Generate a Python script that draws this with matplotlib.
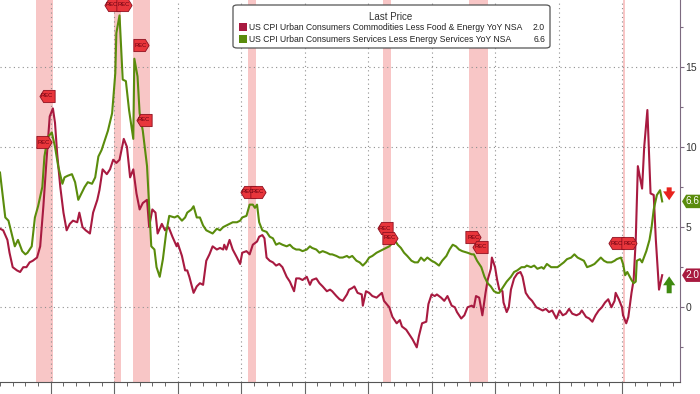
import matplotlib
matplotlib.use('Agg')
import matplotlib.pyplot as plt
from matplotlib.patches import Polygon, FancyBboxPatch, FancyArrowPatch
from matplotlib import transforms

# -----------------------------------------------------------------------------
# data: months since Jan 1971 and YoY change (%)
gds_name = 'US CPI Urban Consumers Commodities Less Food & Energy YoY NSA'
gds_mon = [
    0, 3, 7, 9, 12, 16, 19, 22, 25, 28, 31, 35, 38, 41, 44, 47, 50, 52, 54, 57,
    60, 63, 66, 69, 73, 75, 78, 81, 85, 88, 92, 94, 97, 101, 104, 107, 110, 113, 117, 120,
    123, 126, 129, 132, 135, 139, 141, 144, 147, 149, 153, 156, 159, 160, 163, 167, 168, 172, 175, 177,
    179, 183, 186, 189, 192, 195, 198, 201, 205, 208, 211, 212, 214, 217, 220, 224, 227, 229, 233, 236,
    239, 243, 245, 248, 250, 252, 255, 258, 261, 264, 267, 271, 274, 278, 280, 283, 286, 290, 293, 295,
    299, 302, 305, 309, 312, 314, 318, 321, 324, 328, 330, 333, 335, 338, 342, 343, 346, 349, 352, 356,
    361, 363, 368, 371, 375, 378, 380, 384, 387, 390, 394, 396, 399, 403, 405, 408, 411, 413, 417, 420,
    423, 427, 430, 432, 436, 439, 442, 446, 448, 450, 453, 456, 459, 461, 464, 465, 468, 470, 472, 475,
    476, 479, 481, 483, 486, 489, 492, 494, 497, 500, 503, 507, 510, 513, 516, 519, 522, 526, 529, 532,
    535, 538, 541, 545, 548, 550, 554, 557, 560, 563, 566, 569, 572, 575, 578, 581, 582, 585, 588, 589,
    592, 594, 597, 599, 601, 603, 607, 609, 612, 615, 618, 620, 623, 626]
gds_val = [
    4.9, 4.8, 4.2, 3.4, 2.5, 2.3, 2.2, 2.5, 2.5, 2.8, 2.9, 3.1, 3.8, 6.3, 9.2, 11.9, 12.4, 11.5, 9.6, 7.5,
    5.9, 4.8, 5.2, 5.4, 5.3, 5.9, 5.0, 4.8, 4.6, 5.9, 6.7, 7.3, 8.6, 8.3, 8.6, 9.2, 9.0, 9.2, 10.5, 10.0,
    8.1, 8.6, 7.1, 6.1, 6.5, 6.7, 5.0, 6.1, 5.9, 4.6, 5.2, 4.8, 5.0, 4.9, 4.4, 3.8, 4.0, 3.2, 2.3, 2.3,
    1.9, 0.9, 1.3, 1.5, 1.4, 2.9, 3.3, 3.8, 3.6, 3.7, 3.6, 3.9, 3.6, 4.2, 3.6, 3.1, 2.7, 3.4, 3.5, 3.3,
    3.9, 4.1, 4.4, 4.5, 4.3, 3.1, 2.9, 2.8, 2.6, 2.7, 2.5, 1.9, 1.6, 1.0, 1.8, 1.8, 1.7, 1.9, 1.4, 1.7,
    1.8, 1.5, 1.3, 1.0, 1.1, 1.0, 0.7, 0.5, 0.4, 0.8, 1.1, 1.2, 1.3, 0.9, 0.8, 0.1, 1.0, 0.9, 0.7, 0.6,
    0.9, 0.4, 0.0, -0.6, -1.0, -0.8, -1.2, -1.4, -1.7, -2.0, -2.5, -1.8, -1.0, -0.9, 0.2, 0.8, 0.7, 0.8, 0.6, 0.4,
    0.7, 0.1, 0.0, -0.3, -0.7, -0.5, 0.0, 0.1, 0.0, 0.7, 0.6, -0.5, 0.9, 1.7, 2.4, 3.1, 2.5, 1.7, 1.1, 1.0,
    0.3, -0.3, 0.0, 1.1, 1.8, 2.1, 2.2, 1.9, 0.9, 0.6, 0.4, 0.0, -0.1, -0.2, -0.1, -0.3, -0.2, -0.7, -0.2, -0.5,
    -0.4, -0.1, -0.4, -0.5, -0.4, -0.2, -0.6, -0.7, -0.9, -0.5, -0.2, 0.0, 0.3, 0.5, 0.0, 0.4, 0.9, 0.5, 0.0, -0.5,
    -1.0, -0.6, 0.9, 1.7, 4.2, 8.8, 7.4, 10.0, 12.3, 7.1, 7.0, 4.2, 1.1, 2.0]

svc_name = 'US CPI Urban Consumers Services Less Energy Services YoY NSA'
svc_mon = [
    0, 5, 8, 11, 14, 17, 21, 24, 26, 30, 33, 36, 40, 42, 45, 49, 52, 55, 59, 61,
    64, 68, 71, 74, 77, 80, 83, 87, 90, 93, 96, 99, 102, 106, 109, 110, 113, 116, 119, 122,
    126, 127, 130, 132, 135, 139, 141, 143, 146, 148, 151, 154, 157, 160, 165, 168, 172, 175, 177, 181,
    183, 186, 189, 192, 195, 198, 201, 205, 208, 211, 214, 217, 220, 224, 227, 229, 233, 236, 239, 241,
    243, 245, 248, 252, 255, 258, 261, 264, 267, 271, 274, 277, 280, 283, 286, 290, 293, 295, 299, 302,
    305, 309, 312, 314, 318, 321, 324, 328, 330, 333, 337, 340, 343, 346, 349, 352, 356, 359, 362, 365,
    368, 371, 374, 376, 379, 382, 385, 389, 392, 395, 398, 401, 404, 408, 411, 415, 418, 422, 425, 428,
    431, 434, 437, 442, 446, 448, 451, 455, 458, 461, 464, 467, 470, 472, 475, 479, 483, 486, 489, 493,
    496, 498, 502, 505, 508, 512, 514, 517, 521, 524, 527, 531, 533, 536, 540, 543, 546, 549, 552, 555,
    559, 562, 565, 568, 571, 574, 578, 581, 583, 587, 589, 591, 593, 597, 599, 601, 602, 605, 607, 611,
    614, 616, 618, 621, 624, 626]
svc_val = [
    8.4, 5.6, 5.4, 4.6, 3.8, 4.2, 3.5, 3.3, 3.4, 3.8, 5.6, 6.3, 7.5, 9.4, 10.6, 10.9, 10.0, 8.8, 7.7, 8.1,
    8.2, 8.3, 7.8, 6.7, 7.1, 7.5, 7.8, 7.7, 8.1, 9.4, 9.8, 10.4, 11.0, 12.1, 14.6, 17.1, 18.2, 14.2, 14.1, 12.3,
    10.5, 15.5, 14.4, 12.1, 11.0, 8.8, 6.3, 3.8, 3.6, 2.5, 1.9, 3.0, 4.6, 5.7, 5.6, 5.7, 5.4, 5.6, 5.9, 6.1,
    6.3, 5.6, 5.6, 5.1, 4.8, 4.7, 4.6, 4.9, 4.8, 5.0, 5.1, 5.2, 5.3, 5.3, 5.4, 5.6, 5.7, 6.4, 6.4, 6.2,
    6.4, 5.3, 4.8, 4.7, 4.4, 4.3, 3.9, 4.0, 3.9, 3.8, 3.9, 3.7, 3.6, 3.6, 3.5, 3.6, 3.8, 3.7, 3.6, 3.4,
    3.5, 3.4, 3.3, 3.3, 3.2, 3.1, 3.1, 3.2, 3.1, 3.2, 2.9, 2.8, 2.6, 2.8, 3.1, 3.2, 3.4, 3.5, 3.6, 3.7,
    3.8, 4.0, 4.1, 3.9, 3.7, 3.4, 3.2, 2.9, 2.8, 2.8, 3.1, 2.9, 3.1, 2.9, 2.8, 2.6, 2.9, 3.2, 3.6, 3.9,
    3.8, 3.6, 3.5, 3.4, 3.3, 3.3, 2.9, 2.5, 1.9, 1.5, 1.3, 1.0, 0.9, 0.9, 1.2, 1.6, 1.9, 2.2, 2.3, 2.5,
    2.5, 2.6, 2.5, 2.6, 2.4, 2.5, 2.4, 2.7, 2.5, 2.5, 2.5, 2.7, 2.8, 3.0, 3.1, 3.3, 3.1, 3.0, 2.9, 2.5,
    2.6, 2.7, 2.9, 3.1, 2.9, 2.8, 2.8, 2.9, 3.0, 3.1, 2.7, 2.0, 2.2, 1.7, 1.5, 1.6, 2.9, 3.0, 2.8, 3.5,
    4.2, 5.0, 6.1, 7.0, 7.3, 6.6]

rec_span = [('1973-11', '1975-03'), ('1980-01', '1980-07'), ('1981-07', '1982-11'),
            ('1990-07', '1991-03'), ('2001-03', '2001-11'), ('2007-12', '2009-06'),
            ('2020-02', '2020-04')]
# "REC" tags: year, value, pointing side
rec_tag = [(1974.46, 10.3, 'r'), (1974.70, 13.2, 'l'), (1979.82, 18.85, 'l'), (1980.74, 18.85, 'r'),
           (1982.10, 16.35, 'r'), (1982.33, 11.68, 'l'), (1990.52, 7.19, 'l'), (1991.30, 7.19, 'r'),
           (2001.30, 4.93, 'l'), (2001.69, 4.32, 'r'), (2008.30, 4.38, 'r'), (2008.85, 3.76, 'l'),
           (2019.55, 4.0, 'l'), (2020.58, 4.0, 'r')]

# -----------------------------------------------------------------------------
c_gds, c_svc = '#a81a40', '#5a8c0c'
c_rec, c_tag = '#f8c6c6', '#e8353b'

def yr(s):
    return int(s[:4]) + (int(s[5:]) - 1) / 12.

gds_yr = [1971. + m / 12. for m in gds_mon]
svc_yr = [1971. + m / 12. for m in svc_mon]

plt.rcParams['font.family'] = ['Liberation Sans', 'DejaVu Sans']
fig = plt.figure(figsize=(7., 3.94), dpi=100)
ax = fig.add_axes([0., 1. - 382. / 394., 680. / 700., 382. / 394.])
ax.set_xlim(1971.0, 2024.57)
ax.set_ylim(-4.66, 19.16)

## recession bands
for st, en in rec_span:
    ax.axvspan(yr(st), yr(en), color=c_rec, lw=0, zorder=0)

## grid and axes
ax.set_xticks(range(1975, 2021, 5))
ax.set_xticks(range(1971, 2025), minor=True)
ax.set_yticks([0, 5, 10, 15])
ax.set_yticks([-2.5, 2.5, 7.5, 12.5, 17.5], minor=True)
ax.grid(which='major', linestyle=(0, (1, 3)), color='#8f8f8f', lw=0.8, zorder=1)
ax.tick_params(axis='x', which='major', length=10, width=0.8, color='#666', labelbottom=False)
ax.tick_params(axis='x', which='minor', length=3, width=0.7, color='#666')
ax.tick_params(axis='y', which='both', left=False, right=True, labelleft=False, labelright=True,
               length=3, width=0.8, pad=1, labelsize=7.5, color='#7d6a80', labelcolor='#333')
ax.tick_params(axis='y', which='minor', length=2)
for sp in ('top', 'left'):
    ax.spines[sp].set_visible(False)
ax.spines['right'].set_color('#7d6a80')
ax.spines['bottom'].set_color('#555')

## series
ax.plot(gds_yr, gds_val, color=c_gds, lw=1.5, zorder=3)
ax.plot(svc_yr, svc_val, color=c_svc, lw=1.5, zorder=4)

## REC tags
tag_l = [(-1., 0.), (-0.5, 0.8), (1., 0.8), (1., -0.8), (-0.5, -0.8), (-1., 0.)]
tag_r = [(-x, y) for x, y in tag_l]
for tx, ty, td in rec_tag:
    ax.plot(tx, ty, marker=tag_l if td == 'l' else tag_r, ms=11, mfc=c_tag, mec='#8c1020',
            mew=0.6, ls='none', zorder=6, clip_on=False)
    ax.text(tx, ty, 'REC', fontsize=4.2, color='#6a0010', ha='center', va='center', zorder=7)

## last price tags on the right axis
trf = transforms.blended_transform_factory(ax.transAxes, ax.transData)
for vv, cc in ((svc_val[-1], c_svc), (gds_val[-1], c_gds)):
    ax.add_patch(Polygon([(1.003, vv), (1.009, vv + 0.42), (1.04, vv + 0.42), (1.04, vv - 0.42),
                          (1.009, vv - 0.42)], closed=True, transform=trf, fc=cc, ec='none',
                         clip_on=False, zorder=5))
    ax.text(1.0085, vv, f'{vv:.1f}', transform=trf, color='white', fontsize=7.2,
            ha='left', va='center', clip_on=False, zorder=6)

## direction arrows
ax_x = svc_yr[-1] + 0.55
ax.add_patch(FancyArrowPatch((ax_x, svc_val[-1] + 1.05), (ax_x, svc_val[-1] - 0.1),
                             arrowstyle='simple,head_width=1.1,head_length=0.8,tail_width=0.45',
                             mutation_scale=8, fc='#e8221c', ec='none', zorder=6))
ax.add_patch(FancyArrowPatch((ax_x, gds_val[-1] - 1.3), (ax_x, gds_val[-1] + 0.1),
                             arrowstyle='simple,head_width=1.1,head_length=0.8,tail_width=0.45',
                             mutation_scale=8, fc='#3f8a10', ec='none', zorder=6))

## legend box
fig.patches.append(FancyBboxPatch((233. / 700., 1. - 48. / 394.), 317. / 700., 43. / 394.,
                                  boxstyle='round,pad=0,rounding_size=0.006',
                                  transform=fig.transFigure, fc='white', ec='#555', lw=0.9,
                                  zorder=10))
fig.text(391. / 700., 1. - 17. / 394., 'Last Price', fontsize=7, color='#333',
         ha='center', va='center', zorder=11)
for ii, (nm, vv, cc) in enumerate(((gds_name, gds_val[-1], c_gds), (svc_name, svc_val[-1], c_svc))):
    yy = 1. - (27. + 12. * ii) / 394.
    fig.patches.append(FancyBboxPatch((239. / 700., yy - 4. / 394.), 8. / 700., 8. / 394.,
                                      boxstyle='square,pad=0', transform=fig.transFigure,
                                      fc=cc, ec='none', zorder=11))
    fig.text(249. / 700., yy, nm, fontsize=6.2, color='#222', ha='left', va='center', zorder=11)
    fig.text(545. / 700., yy, f'{vv:.1f}', fontsize=6.2, color='#222', ha='right', va='center',
             zorder=11)

fig.savefig('out.png', dpi=100)
